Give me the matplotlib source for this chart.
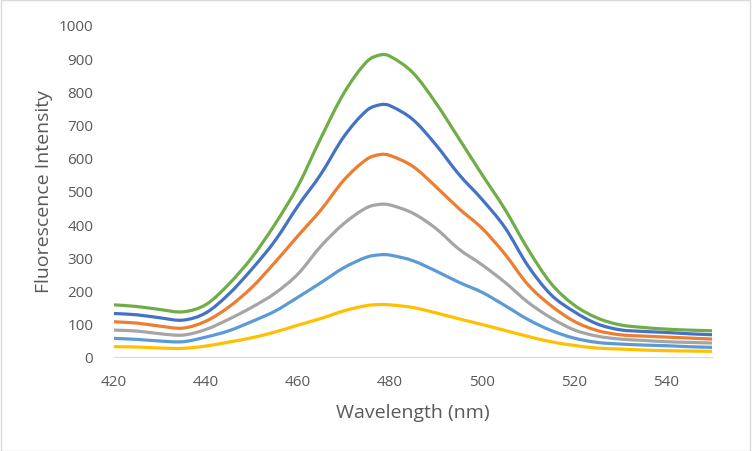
import numpy as np
import matplotlib.pyplot as plt
from matplotlib.path import Path
from matplotlib.patches import PathPatch, Rectangle

# wavelengths (nm)
wl = [420, 425, 430, 435, 440, 445, 450, 455, 460, 465, 470, 475, 478, 480,
      485, 490, 495, 500, 505, 510, 515, 520, 525, 530, 535, 540, 545, 550]

# fluorescence intensity per series
green = [157, 152, 143, 136, 158, 220, 300, 400, 515, 660, 795, 890, 910, 906,
         856, 765, 658, 550, 445, 325, 222, 157, 118, 97, 89, 84, 81, 79]
blue = [131, 127, 118, 111, 133, 190, 265, 350, 455, 551, 664, 743, 760, 757,
        715, 639, 550, 475, 390, 275, 188, 137, 100, 82, 77, 74, 70, 67]
orange = [106, 102, 93, 87, 108, 151, 210, 285, 365, 443, 533, 596, 610, 607,
          574, 513, 447, 388, 310, 218, 155, 108, 80, 67, 63, 60, 57, 54]
gray = [81, 78, 70, 66, 83, 114, 150, 192, 250, 334, 402, 450, 460, 458,
        433, 387, 325, 278, 225, 165, 118, 82, 63, 54, 50, 46, 44, 42]
ltblue = [56, 53, 48, 46, 60, 79, 107, 138, 180, 224, 269, 301, 308, 307,
          290, 259, 225, 195, 155, 113, 80, 57, 44, 39, 36, 34, 31, 29]
yellow = [31, 30, 27, 26, 33, 45, 58, 75, 96, 116, 139, 155, 158, 157,
          149, 133, 115, 98, 80, 62, 46, 35, 27, 24, 21, 19, 18, 17]

series = [
    (yellow, '#FFC000'),
    (ltblue, '#5B9BD5'),
    (gray, '#A5A5A5'),
    (orange, '#ED7D31'),
    (blue, '#4472C4'),
    (green, '#70AD47'),
]

plt.rcParams['font.family'] = ['Open Sans', 'DejaVu Sans']


def smooth_path(x, y):
    # smoothed line: cubic hermite pieces (tangent from neighbours) as beziers
    x = np.asarray(x, float)
    y = np.asarray(y, float)
    n = len(x)
    m = np.zeros(n)
    m[0] = (y[1] - y[0]) / (x[1] - x[0])
    m[-1] = (y[-1] - y[-2]) / (x[-1] - x[-2])
    for i in range(1, n - 1):
        m[i] = (y[i+1] - y[i-1]) / (x[i+1] - x[i-1])
    verts = [(x[0], y[0])]
    codes = [Path.MOVETO]
    for i in range(n - 1):
        h = (x[i+1] - x[i]) / 3
        verts += [(x[i] + h, y[i] + m[i] * h),
                  (x[i+1] - h, y[i+1] - m[i+1] * h),
                  (x[i+1], y[i+1])]
        codes += [Path.CURVE4] * 3
    return Path(verts, codes)


fig = plt.figure(figsize=(7.52, 4.52), dpi=100)
ax = fig.add_axes([0.1516, 0.208, 0.795, 0.7345])

for vals, col in series:
    ax.add_patch(PathPatch(smooth_path(wl, vals), facecolor='none',
                           edgecolor=col, lw=2.3, capstyle='round'))

ax.set_xlim(420, 550)
ax.set_ylim(0, 1000)
ax.set_xticks(range(420, 541, 20))
ax.set_yticks(range(0, 1001, 100))
for s in ['top', 'right', 'left']:
    ax.spines[s].set_visible(False)
ax.spines['bottom'].set_color('#D9D9D9')
ax.tick_params(length=0, labelsize=11, colors='#595959', pad=12)
ax.tick_params(axis='y', pad=15)
ax.set_xlabel('Wavelength (nm)', fontsize=14, color='#595959', labelpad=10)
ax.set_ylabel('Fluorescence Intensity', fontsize=14, color='#595959', labelpad=4)

fig.patches.append(Rectangle((0.001, 0.001), 0.997, 0.997, transform=fig.transFigure,
                             fill=False, edgecolor='#D9D9D9', lw=1))

fig.savefig('out.png', dpi=100)
